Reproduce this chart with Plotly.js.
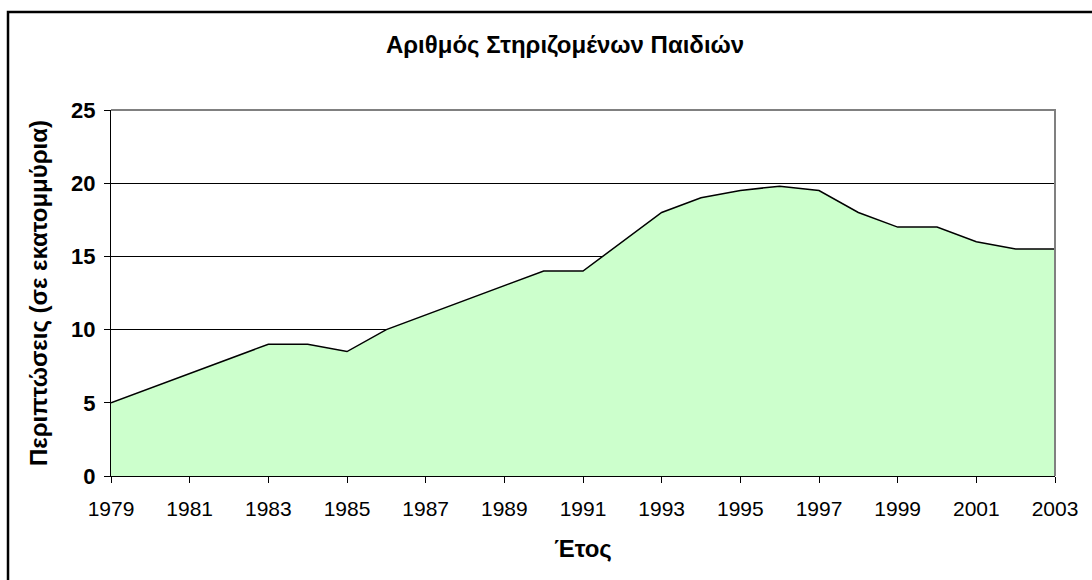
<!DOCTYPE html>
<html>
<head>
<meta charset="utf-8">
<script src="https://cdn.plot.ly/plotly-3.0.1.min.js"></script>
<style>html,body{margin:0;padding:0;background:#fff;}#chart{width:1092px;height:580px;}</style>
</head>
<body>
<div id="chart"></div>
<script>
const years = [1979,1980,1981,1982,1983,1984,1985,1986,1987,1988,1989,1990,1991,1992,1993,1994,1995,1996,1997,1998,1999,2000,2001,2002,2003];
const cases = [5,6,7,8,9,9,8.5,10,11,12,13,14,14,16,18,19,19.5,19.8,19.5,18,17,17,16,15.5,15.5];
const chartTitle = 'Αριθμός Στηριζομένων Παιδιών';
const xTitle = 'Έτος';
const yTitle = 'Περιπτώσεις (σε εκατομμύρια)';

const font = 'Liberation Sans, Arial, sans-serif';

const trace = {
  x: years, y: cases, type: 'scatter', mode: 'lines',
  fill: 'tozeroy', fillcolor: '#CCFFCC',
  line: {color: '#000', width: 1.5},
  hoverinfo: 'x+y'
};

const layout = {
  width: 1092, height: 580,
  margin: {l: 111, r: 37, t: 110, b: 104},
  paper_bgcolor: '#fff', plot_bgcolor: '#fff',
  showlegend: false,
  font: {family: font, color: '#000'},
  title: {text: '<b>' + chartTitle + '</b>', font: {family: font, size: 24, color: '#000'},
          x: 0.481, xref: 'paper', xanchor: 'center', y: 1 - 45/580, yref: 'container', yanchor: 'middle'},
  xaxis: {
    range: [1979, 2003], tick0: 1979, dtick: 2, tickmode: 'linear',
    showgrid: false, zeroline: false,
    showline: true, linecolor: '#000', linewidth: 1,
    ticks: 'outside', ticklen: 6, tickcolor: '#000', tickwidth: 1,
    ticklabelstandoff: 8,
    tickfont: {family: font, size: 21, color: '#000'},
    title: {text: '<b>' + xTitle + '</b>', font: {family: font, size: 24, color: '#000'}, standoff: 20}
  },
  yaxis: {
    range: [0, 25], tick0: 0, dtick: 5, tickmode: 'linear',
    showgrid: true, gridcolor: '#000', gridwidth: 1, zeroline: false,
    showline: true, linecolor: '#000', linewidth: 1,
    ticks: 'outside', ticklen: 6, tickcolor: '#000', tickwidth: 1,
    ticklabelstandoff: 4,
    tickfont: {family: font, size: 22, color: '#000'},
    tickprefix: '<b>', ticksuffix: '</b>',
    title: {text: '<b>' + yTitle + '</b>', font: {family: font, size: 24, color: '#000'}, standoff: 16}
  },
  shapes: [
    {type: 'path', xref: 'paper', yref: 'paper', layer: 'above',
     path: 'M 1 0 L 1 1 L 0 1', line: {color: '#808080', width: 2}},
    {type: 'path', xref: 'paper', yref: 'paper', layer: 'above',
     path: 'M -0.1091 -0.5 L -0.1091 1.2678 L 1.2 1.2678', line: {color: '#000', width: 2.5}}
  ]
};

Plotly.newPlot('chart', [trace], layout, {displayModeBar: false, staticPlot: true});
</script>
</body>
</html>
